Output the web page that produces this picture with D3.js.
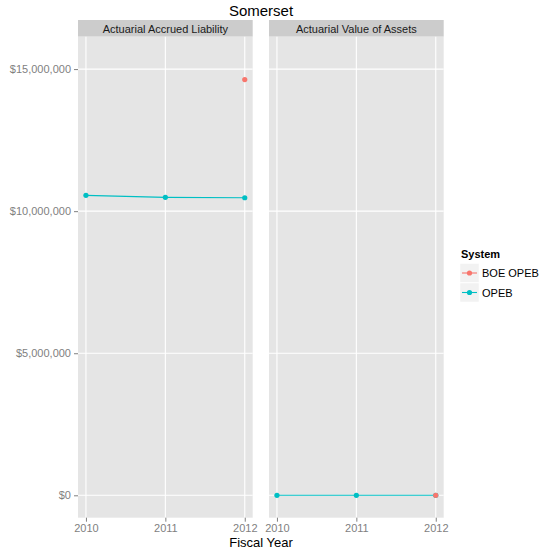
<!DOCTYPE html>
<html><head><meta charset="utf-8">
<script src="https://cdn.jsdelivr.net/npm/d3@7"></script>
<style>body{margin:0;background:#fff}svg{display:block}text{font-family:"Liberation Sans",Arial,Helvetica,sans-serif}</style>
</head><body><svg id="c" width="543" height="555"></svg>
<script>
const title = "Somerset";
const facets = ["Actuarial Accrued Liability", "Actuarial Value of Assets"];
const systems = ["BOE OPEB", "OPEB"];
const colors = ["#F8766D", "#00BFC4"];
const years = [2010, 2011, 2012];
const yTicks = [0, 5000000, 10000000, 15000000];
// values per facet and system (null = missing)
const liabBOE = [null, null, 14630000];
const liabOPEB = [10556000, 10486000, 10472000];
const assetsBOE = [null, null, 0];
const assetsOPEB = [0, 0, 0];

const data = [
  {facet: facets[0], series: [{sys: systems[0], vals: liabBOE}, {sys: systems[1], vals: liabOPEB}]},
  {facet: facets[1], series: [{sys: systems[0], vals: assetsBOE}, {sys: systems[1], vals: assetsOPEB}]}
];

const svg = d3.select("#c");
const color = d3.scaleOrdinal().domain(systems).range(colors);
const panelTop = 36.7, panelBottom = 517.7, stripTop = 20;
const panels = [{x0: 78, x1: 252.7}, {x0: 269, x1: 443.7}];
const y = d3.scaleLinear().domain([-788000, 16140000]).range([panelBottom, panelTop]);
const fmt = v => "$" + d3.format(",")(v);

svg.append("text").attr("x", 261).attr("y", 16).attr("text-anchor", "middle")
  .attr("font-size", 15).attr("fill", "#000").text(title);

data.forEach((d, i) => {
  const p = panels[i];
  const x = d3.scaleLinear().domain([2009.9, 2012.1]).range([p.x0, p.x1]);
  const g = svg.append("g");
  g.append("rect").attr("x", p.x0).attr("y", stripTop).attr("width", p.x1 - p.x0).attr("height", panelTop - stripTop).attr("fill", "#CCCCCC");
  g.append("text").attr("x", (p.x0 + p.x1) / 2).attr("y", 32.5).attr("text-anchor", "middle")
    .attr("font-size", 11).attr("fill", "#1a1a1a").text(d.facet);
  g.append("rect").attr("x", p.x0).attr("y", panelTop).attr("width", p.x1 - p.x0).attr("height", panelBottom - panelTop).attr("fill", "#E5E5E5");
  g.selectAll(".gy").data(yTicks).join("line").attr("x1", p.x0).attr("x2", p.x1)
    .attr("y1", v => y(v)).attr("y2", v => y(v)).attr("stroke", "#fff").attr("stroke-width", 1.1);
  g.selectAll(".gx").data(years).join("line").attr("y1", panelTop).attr("y2", panelBottom)
    .attr("x1", v => x(v)).attr("x2", v => x(v)).attr("stroke", "#fff").attr("stroke-width", 1.1);
  const xa = svg.append("g").attr("transform", `translate(0,${panelBottom})`)
    .call(d3.axisBottom(x).tickValues(years).tickFormat(d3.format("d")).tickSize(4).tickPadding(3));
  xa.select(".domain").remove();
  xa.selectAll("line").attr("stroke", "#7f7f7f");
  xa.selectAll("text").attr("fill", "#7f7f7f").attr("font-size", 11).attr("font-family", "Liberation Sans,Arial,sans-serif");
  const ser = d.series.map(s => ({sys: s.sys, pts: years.map((yr, k) => ({yr, v: s.vals[k]})).filter(e => e.v !== null)}));
  const line = d3.line().x(e => x(e.yr)).y(e => y(e.v));
  ser.forEach(s => {
    if (s.pts.length > 1) g.append("path").attr("d", line(s.pts)).attr("fill", "none")
      .attr("stroke", color(s.sys)).attr("stroke-width", 1.1);
  });
  ser.slice().reverse().forEach(s => {
    g.selectAll(null).data(s.pts).join("circle").attr("cx", e => x(e.yr)).attr("cy", e => y(e.v))
      .attr("r", 2.6).attr("fill", color(s.sys));
  });
});

const ya = svg.append("g").attr("transform", `translate(${panels[0].x0},0)`)
  .call(d3.axisLeft(y).tickValues(yTicks).tickFormat(fmt).tickSize(4).tickPadding(3));
ya.select(".domain").remove();
ya.selectAll("line").attr("stroke", "#7f7f7f");
ya.selectAll("text").attr("fill", "#7f7f7f").attr("font-size", 11).attr("font-family", "Liberation Sans,Arial,sans-serif");

svg.append("text").attr("x", 261).attr("y", 547).attr("text-anchor", "middle")
  .attr("font-size", 13).attr("fill", "#000").text("Fiscal Year");

const lg = svg.append("g");
lg.append("text").attr("x", 461).attr("y", 258).attr("font-size", 11).attr("font-weight", "bold").attr("fill", "#000").text("System");
systems.forEach((s, i) => {
  const ky = 263.5 + i * 19.5;
  lg.append("rect").attr("x", 460).attr("y", ky).attr("width", 19).attr("height", 19).attr("fill", "#F2F2F2").attr("stroke", "#fff").attr("stroke-width", 0.5);
  lg.append("line").attr("x1", 462).attr("x2", 477).attr("y1", ky + 9.5).attr("y2", ky + 9.5).attr("stroke", color(s)).attr("stroke-width", 1.1);
  lg.append("circle").attr("cx", 469.5).attr("cy", ky + 9.5).attr("r", 2.6).attr("fill", color(s));
  lg.append("text").attr("x", 482).attr("y", ky + 13.5).attr("font-size", 11).attr("fill", "#000").text(s);
});
</script></body></html>
